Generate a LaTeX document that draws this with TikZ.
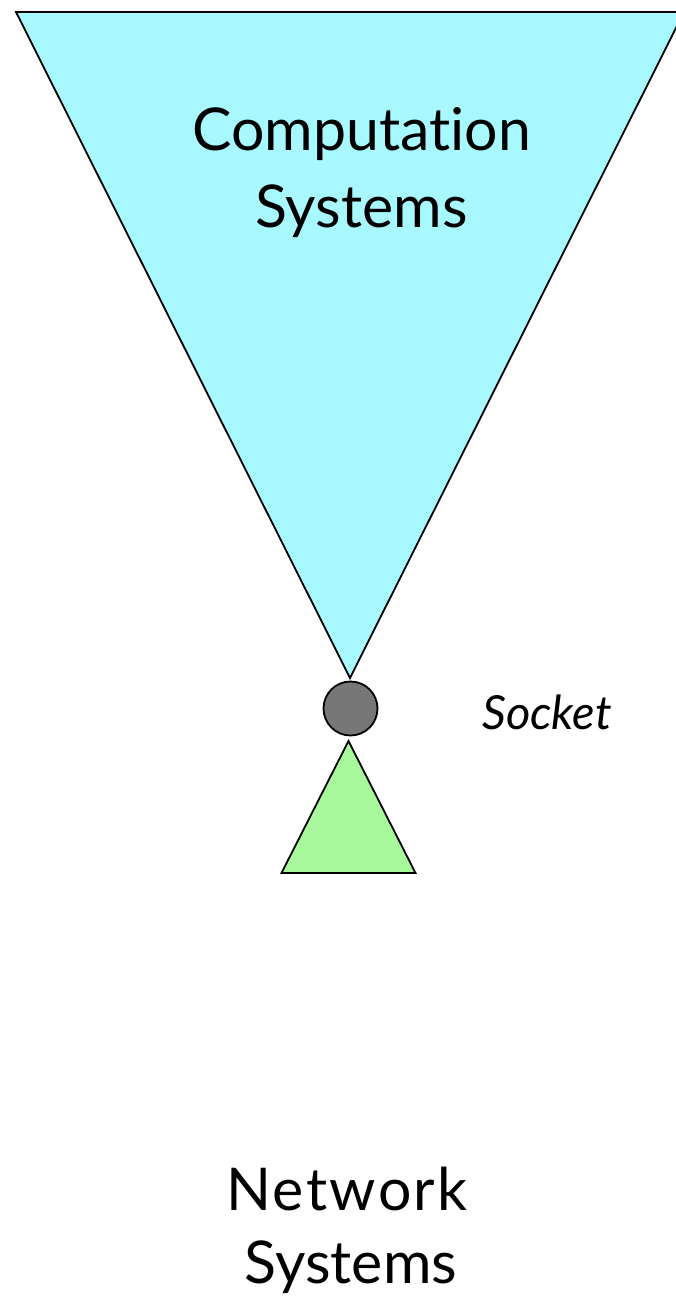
\documentclass[tikz,border=0pt]{standalone}
\usepackage{fontspec}
\setmainfont{Lato}[Ligatures={NoCommon,NoRare}]
\newfontfamily\netfont{Lato}[Ligatures={NoCommon,NoRare},LetterSpace=4]
\definecolor{compcyan}{HTML}{A8F8FF}
\definecolor{netgreen}{HTML}{A8F89C}
\definecolor{sockgray}{HTML}{777777}
\begin{document}
\begin{tikzpicture}[x=1pt,y=-1pt,
  shapeline/.style={draw=black,line width=1.8pt,line join=miter},
  bigtext/.style={font=\fontsize{59}{77}\selectfont,anchor=base,inner sep=0pt},
  nettext/.style={font=\netfont\fontsize{59}{77}\selectfont,anchor=base,inner sep=0pt},
  socktext/.style={font=\fontsize{47}{56}\selectfont\itshape,anchor=base,inner sep=0pt}]
\useasboundingbox (0,0) rectangle (676,1298);
\clip (0,0) rectangle (676,1298);
\fill[white] (0,0) rectangle (676,1298);
\draw[shapeline,fill=compcyan] (16,12) -- (684,12) -- (350,678) -- cycle;
\node[shapeline,fill=sockgray,circle,minimum size=54pt,inner sep=0pt] (socket) at (350.5,708.5) {};
\draw[shapeline,fill=netgreen] (348.5,741) -- (415.5,873) -- (281.5,873) -- cycle;
\node[bigtext] (comp1) at (361.5,150) {Computation};
\node[bigtext] (comp2) at (361.5,227) {Systems};
\node[nettext] (net1) at (347,1210) {Network};
\node[bigtext] (net2) at (351,1283) {Systems};
\node[socktext] (socklabel) at (547,729) {Socket};
\end{tikzpicture}
\end{document}
